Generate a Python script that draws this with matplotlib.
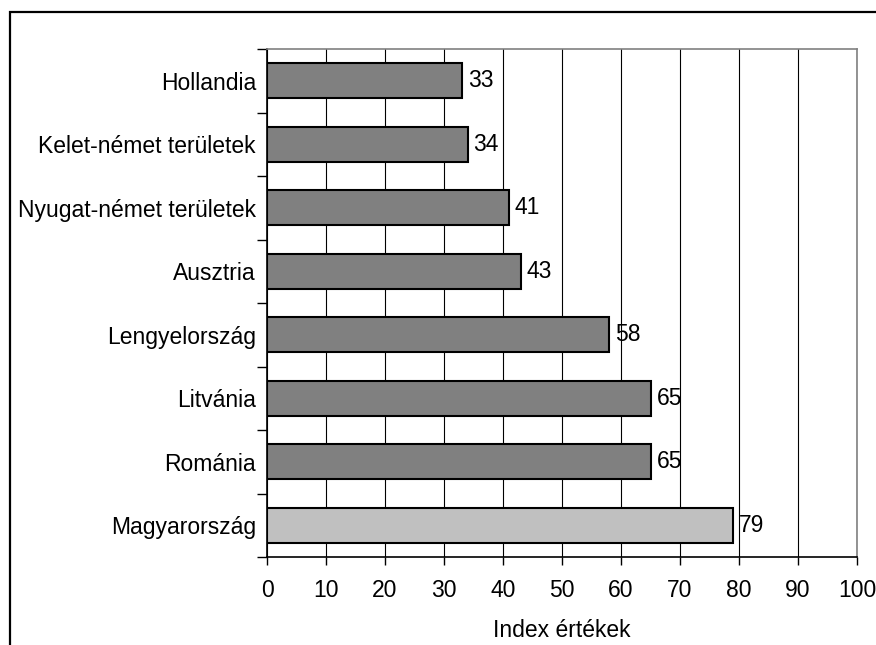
import matplotlib.pyplot as plt
from matplotlib.patches import Rectangle

plt.rcParams["font.family"] = ["Liberation Sans", "DejaVu Sans"]

# top to bottom as in the chart
countries = [
    "Hollandia",
    "Kelet-német területek",
    "Nyugat-német területek",
    "Ausztria",
    "Lengyelország",
    "Litvánia",
    "Románia",
    "Magyarország",
]
values = [33, 34, 41, 43, 58, 65, 65, 79]
bar_colors = ["#808080"] * 7 + ["#c0c0c0"]
xticks = list(range(0, 101, 10))

FS = 16.5
W, H = 876, 645
fig = plt.figure(figsize=(W / 100, H / 100), dpi=100)
ax = fig.add_axes([267 / W, 1 - 557 / H, (857 - 267) / W, (557 - 49) / H])

pos = list(range(len(countries)))[::-1]
ax.barh(pos, values, height=0.55, color=bar_colors, edgecolor="black", linewidth=1.5, zorder=3)

for y, v in zip(pos, values):
    ax.text(v + 1.0, y, str(v), va="center", ha="left", fontsize=FS, zorder=4)

ax.set_xlim(0, 100)
ax.set_ylim(-0.5, len(countries) - 0.5)
ax.set_xticks(xticks)
ax.set_xticklabels([str(t) for t in xticks], fontsize=FS)
ax.set_xlabel("Index értékek", fontsize=FS, labelpad=12)

# category labels sit between tick marks (ticks are on category boundaries)
ax.set_yticks([p - 0.5 for p in range(len(countries) + 1)])
ax.set_yticklabels([])
ax.set_yticks(pos, minor=True)
ax.set_yticklabels(countries, minor=True, fontsize=FS)
ax.tick_params(axis="y", which="minor", length=0, pad=8)
ax.tick_params(axis="y", which="major", length=7, width=1, direction="out")
ax.tick_params(axis="x", length=6, width=1, direction="out", pad=10)

ax.grid(axis="x", color="black", linewidth=0.8, zorder=0)
for side in ["top", "right"]:
    ax.spines[side].set_color("#808080")
    ax.spines[side].set_linewidth(1.2)
for side in ["left", "bottom"]:
    ax.spines[side].set_linewidth(1.2)

# outer chart frame, partly cut off by the image edges
fig.patches.append(Rectangle((10 / W, -0.1), 1.2, 1 - 12 / H + 0.1, transform=fig.transFigure,
                             fill=False, edgecolor="black", linewidth=1.6))

fig.savefig("out.png", dpi=100)
